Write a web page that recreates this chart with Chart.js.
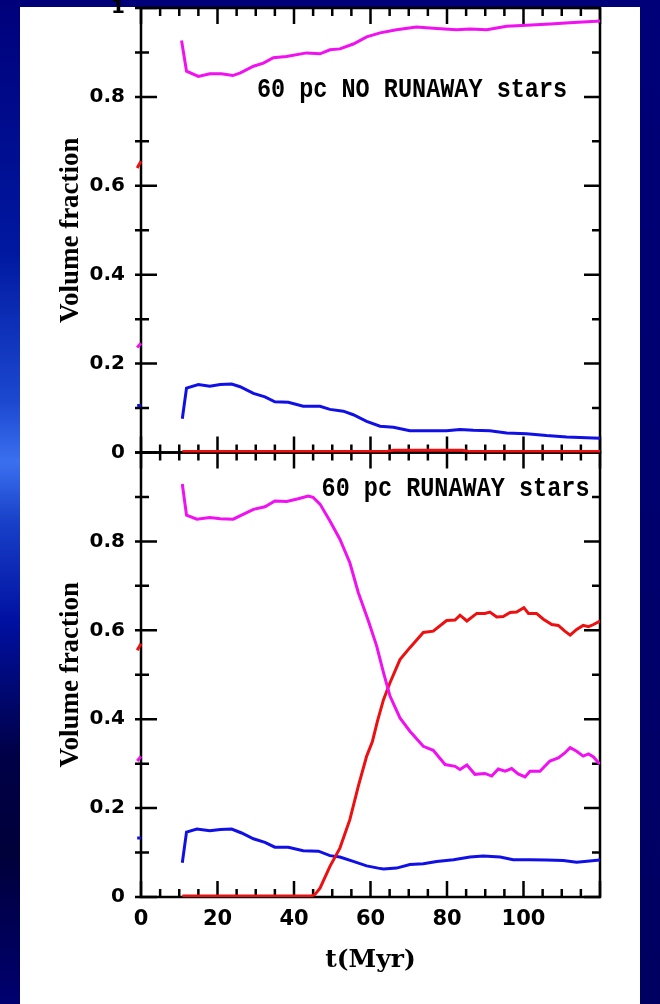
<!DOCTYPE html>
<html>
<head>
<meta charset="utf-8">
<script src="https://cdn.jsdelivr.net/npm/chart.js@4"></script>
<style>
html,body{margin:0;padding:0;}
body{width:660px;height:1004px;position:relative;overflow:hidden;
 background:linear-gradient(to bottom,#000078 0%,#00006e 50%,#000060 100%);}
#space{position:absolute;left:0;top:0;width:20px;height:1004px;
 background:linear-gradient(to bottom,#00007a 0%,#0018a0 25%,#1c48d0 40%,#3a70f0 46%,#1840c8 52%,#0010a0 62%,#000048 75%,#00003a 85%,#000070 100%);}
#paper{position:absolute;left:20px;top:7px;width:620px;height:997px;background:#fff;}
#chart{position:absolute;left:0;top:0;}
</style>
</head>
<body>
<div id="space"></div>
<div id="paper"></div>
<canvas id="chart" width="660" height="1004"></canvas>
<script>
// 60 pc, no runaway stars (top panel)
const topHotT=[10.6,11.9,15,18,21,24,26,29.4,32,34.6,38,43.3,46.8,49.4,52,55.5,59,62.5,66.8,72,77.3,82.5,86,90.4,95.6,100.8,107,112,119,120];
const topHotV=[0.927,0.858,0.846,0.852,0.852,0.848,0.854,0.869,0.876,0.888,0.891,0.899,0.897,0.906,0.908,0.919,0.935,0.944,0.951,0.957,0.954,0.951,0.953,0.951,0.959,0.961,0.964,0.967,0.970,0.971];
const topWarmT=[10.8,11.9,15,18,20.7,23.7,25.9,29.4,32.4,35,38.5,42.4,46.8,49.4,52.9,55.5,59,62.5,66,70.3,75.6,79.9,83.4,86.9,91.2,95.6,100.8,106,111.3,120];
const topWarmV=[0.076,0.145,0.153,0.149,0.153,0.154,0.148,0.133,0.125,0.114,0.113,0.104,0.104,0.097,0.093,0.085,0.070,0.059,0.057,0.049,0.049,0.049,0.052,0.050,0.049,0.044,0.042,0.038,0.035,0.032];
const topColdT=[10.8,64,66,84,86,120];
const topColdV=[0.002,0.002,0.005,0.005,0.002,0.002];

// 60 pc, runaway stars (bottom panel)
const botHotT=[10.8,11.9,14.6,18,20.7,24.1,26.7,29.4,32.4,35,38.1,41.1,43.7,45,46.8,49.4,52,54.6,56.8,59.5,61.6,63.4,65.1,67.7,70.3,73.8,76.4,79.5,82.1,83.4,85.2,87.3,89.9,91.7,93.4,95.2,96.9,98.6,100.4,101.7,104.3,106.9,109.1,110.8,112.2,113.9,115.6,117,118.3,119.6,120];
const botHotV=[0.929,0.859,0.850,0.854,0.851,0.850,0.861,0.872,0.878,0.891,0.890,0.896,0.902,0.899,0.884,0.846,0.805,0.752,0.685,0.620,0.565,0.505,0.452,0.403,0.373,0.339,0.330,0.298,0.294,0.287,0.297,0.276,0.278,0.272,0.288,0.283,0.289,0.277,0.270,0.283,0.283,0.306,0.313,0.324,0.336,0.328,0.317,0.322,0.315,0.302,0.300];
const botColdT=[10.8,44.5,45.5,46.8,49.4,52,54.6,56.8,59,60.5,61.8,63.4,65.1,67.7,70.3,73.8,76.4,79.9,82.1,83.4,85.2,87.8,89.9,91.2,93,94.7,96.5,98.2,100.1,101.3,103.4,105.2,107.4,109.1,110.8,112.2,113.9,115.6,117,118.3,120];
const botColdV=[0.002,0.002,0.006,0.020,0.069,0.110,0.174,0.249,0.317,0.350,0.395,0.444,0.482,0.534,0.561,0.595,0.598,0.622,0.623,0.634,0.621,0.638,0.638,0.641,0.630,0.631,0.640,0.641,0.651,0.638,0.638,0.625,0.613,0.611,0.598,0.589,0.602,0.611,0.608,0.613,0.621];
const botWarmT=[10.8,11.9,14.6,18,20.7,23.7,26.3,29.4,32.4,35,38.5,42.4,46.4,49.4,52,55.5,59,62,63.4,66.8,70.3,73.8,77.3,81.7,86,89.5,93.9,97.3,101.7,106,110.4,113.9,120];
const botWarmV=[0.077,0.146,0.153,0.149,0.152,0.153,0.144,0.131,0.123,0.112,0.112,0.104,0.103,0.093,0.090,0.080,0.070,0.065,0.063,0.065,0.073,0.075,0.080,0.084,0.090,0.092,0.090,0.084,0.084,0.083,0.082,0.078,0.083];

// short stubs left of the y axis
const stubT=[-1,0];
const topStubRed=[0.640,0.655], topStubMag=[0.236,0.246], topStubBlue=[0.106,0.106];
const botStubRed=[0.555,0.570], botStubMag=[0.306,0.316], botStubBlue=[0.133,0.133];

const xLabels=[0,20,40,60,80,100];
const xTickVals=[0,5,10,15,20,25,30,35,40,45,50,55,60,65,70,75,80,85,90,95,100,105,110,115,120];
const yTickVals=[0,0.1,0.2,0.3,0.4,0.5,0.6,0.7,0.8,0.9,1];
const notes=[
 {text:'60 pc NO RUNAWAY stars',axis:'yt',t:30.3,v:0.815},
 {text:'60 pc RUNAWAY stars',axis:'yb',t:47.2,v:0.918}
];

const MAG='#f010f0', BLUE='#1010e6', RED='#ee1010';
const pts=(ts,vs)=>ts.map((t,i)=>({x:t,y:vs[i]}));
const line=(ts,vs,c,ax)=>({data:pts(ts,vs),borderColor:c,borderWidth:3,yAxisID:ax,pointRadius:0,tension:0,fill:false});
const stub=(vs,c,ax)=>Object.assign(line(stubT,vs,c,ax),{clip:{left:8,top:0,right:0,bottom:0}});

const frameTicks={
 id:'frameTicks',
 beforeDatasetsDraw(chart){
  const ctx=chart.ctx, x=chart.scales.x;
  ctx.save();
  ctx.strokeStyle='#000';
  ctx.lineWidth=2.5;
  ['yt','yb'].forEach(id=>{
   const y=chart.scales[id];
   const L=x.left,R=x.right,T=y.top,B=y.bottom;
   ctx.strokeRect(L,T,R-L,B-T);
   ctx.beginPath();
   yTickVals.forEach(v=>{
    const py=y.getPixelForValue(v);
    const len=Math.round(v*10)%2===0?16:8;
    ctx.moveTo(L-6,py);ctx.lineTo(L+len,py);
    ctx.moveTo(R-len,py);ctx.lineTo(R,py);
   });
   xTickVals.forEach(t=>{
    const px=x.getPixelForValue(t);
    const len=t%20===0?16:8;
    ctx.moveTo(px,T);ctx.lineTo(px,T+len);
    ctx.moveTo(px,B);ctx.lineTo(px,B-len);
   });
   ctx.stroke();
  });
  ctx.restore();
 },
 afterDatasetsDraw(chart){
  const ctx=chart.ctx;
  notes.forEach(n=>{
   const px=chart.scales.x.getPixelForValue(n.t);
   const py=chart.scales[n.axis].getPixelForValue(n.v);
   ctx.save();
   ctx.translate(px,py);
   ctx.scale(1,1.18);
   ctx.font='bold 23.5px "Liberation Mono"';
   ctx.fillStyle='#000';
   ctx.textBaseline='middle';
   ctx.fillText(n.text,0,0);
   ctx.restore();
  });
 }
};

const noPad=s=>{s.paddingTop=0;s.paddingBottom=0;s.paddingLeft=0;s.paddingRight=0;};
const fmt=v=>String(Math.round(v*10)/10);
const yTitle={display:true,text:'Volume fraction',color:'#000',font:{family:'"Liberation Serif"',size:27,weight:'bold'},padding:{top:55,bottom:0}};
const yFont={family:'"DejaVu Sans"',size:20,weight:'bold'};

new Chart(document.getElementById('chart'),{
 type:'line',
 data:{datasets:[
  line(topHotT,topHotV,MAG,'yt'),
  line(topWarmT,topWarmV,BLUE,'yt'),
  line(topColdT,topColdV,RED,'yt'),
  line(botHotT,botHotV,MAG,'yb'),
  line(botColdT,botColdV,RED,'yb'),
  line(botWarmT,botWarmV,BLUE,'yb'),
  stub(topStubRed,RED,'yt'),stub(topStubMag,MAG,'yt'),stub(topStubBlue,BLUE,'yt'),
  stub(botStubRed,RED,'yb'),stub(botStubMag,MAG,'yb'),stub(botStubBlue,BLUE,'yb')
 ]},
 options:{
  responsive:false,
  animation:false,
  layout:{padding:{left:0,right:60,top:8,bottom:0}},
  plugins:{legend:{display:false},tooltip:{enabled:false}},
  scales:{
   x:{type:'linear',min:0,max:120,
    grid:{display:false,drawTicks:false},border:{display:false},
    ticks:{stepSize:20,padding:10,color:'#000',font:{family:'"DejaVu Sans"',size:21,weight:'bold'},
     callback:v=>xLabels.includes(v)?String(v):''},
    title:{display:true,text:'t(Myr)',color:'#000',font:{family:'"DejaVu Serif"',size:25,weight:'bold'},padding:{top:0,bottom:29}},
    afterFit:s=>{s.height=107;noPad(s);}
   },
   yb:{type:'linear',position:'left',stack:'v',stackWeight:1,min:0,max:1,
    grid:{display:false,drawTicks:false},border:{display:false},
    ticks:{stepSize:0.2,padding:16,color:'#000',font:yFont,callback:v=>v>=0.99?'':fmt(v)},
    title:yTitle,
    afterFit:s=>{s.width=141;noPad(s);}
   },
   yt:{type:'linear',position:'left',stack:'v',stackWeight:1,min:0,max:1,
    grid:{display:false,drawTicks:false},border:{display:false},
    ticks:{stepSize:0.2,padding:16,color:'#000',font:yFont,callback:fmt},
    title:yTitle,
    afterFit:s=>{s.width=141;noPad(s);}
   }
  }
 },
 plugins:[frameTicks]
});
</script>
</body>
</html>
